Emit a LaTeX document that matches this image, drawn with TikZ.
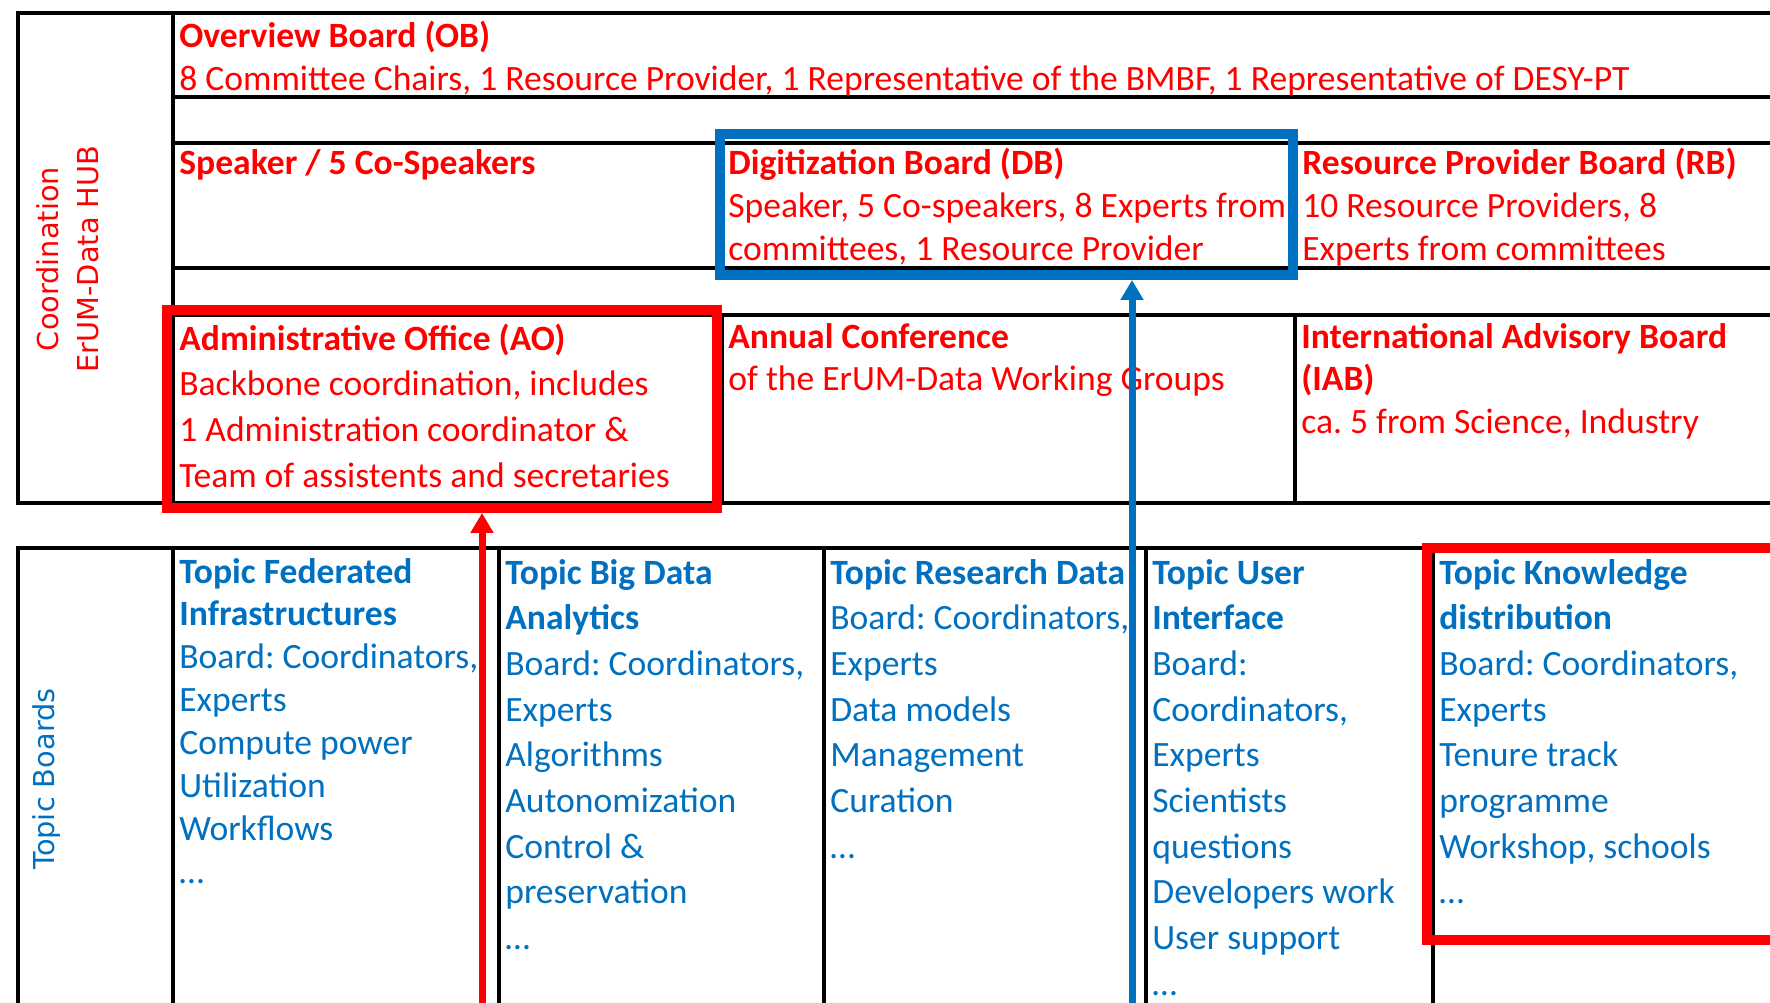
\documentclass[tikz,border=0pt]{standalone}
\usepackage{fontspec}
\setmainfont{Carlito}
\newfontfamily\sidefont{DejaVu Sans}
\usetikzlibrary{arrows.meta,fit}
\definecolor{ored}{RGB}{255,0,0}
\definecolor{oblue}{RGB}{0,112,192}
\frenchspacing

\begin{document}
\begin{tikzpicture}[x=0.02cm, y=-0.02cm,
	grid/.style={line width=0.065cm, black},
	cell/.style={anchor=base west, inner xsep=0.12cm, inner ysep=0pt, text width=31cm, align=flush left, font=\fontsize{20.25}{24.4}\selectfont},
	loose/.style={font=\fontsize{20.25}{26}\selectfont},
	side/.style={rotate=90, align=center, font=\sidefont\fontsize{16.4}{22.5}\selectfont},
	hilite/.style={draw=#1, line width=0.2cm, inner sep=0pt},
	feed/.style={draw=#1, line width=0.14cm, -{Triangle[width=0.44cm,length=0.4cm]}}]
	\useasboundingbox (0,0) rectangle (1770,1003);
	\clip (0,0) rectangle (1770,1003);
	\fill[white] (0,0) rectangle (1770,1003);

	\draw[grid] (1800,13) -- (18,13) -- (18,503) -- (1800,503);
	\draw[grid] (173,13) -- (173,503);
	\draw[grid] (173,97) -- (1800,97);
	\draw[grid] (173,143) -- (1800,143);
	\draw[grid] (173,268) -- (1800,268);
	\draw[grid] (173,315) -- (1800,315);
	\draw[grid] (722,143) -- (722,268);
	\draw[grid] (1296,143) -- (1296,268);
	\draw[grid] (722,315) -- (722,503);
	\draw[grid] (1295,315) -- (1295,503);

	\draw[grid] (1800,548) -- (18,548) -- (18,1010);
	\draw[grid] (173,548) -- (173,1010);
	\draw[grid] (499,548) -- (499,1010);
	\draw[grid] (824,548) -- (824,1010);
	\draw[grid] (1146,548) -- (1146,1010);
	\draw[grid] (1433,548) -- (1433,1010);

	\node[side, text=ored] (13) at (68,259)		{Coordination\\ErUM-Data HUB};
	\node[side, text=oblue] (14) at (47,779)		{Topic Boards};

	\node[cell, text=ored] (1) at (173,47.5)		{\textbf{Overview Board (OB)}\\8 Committee Chairs, 1 Resource Provider, 1 Representative of the BMBF, 1 Representative of DESY-PT};
	\node[cell, text=ored] (2) at (173,175)		{\textbf{Speaker / 5 Co-Speakers}};
	\node[cell, text=ored] (3) at (722,175)		{\textbf{Digitization Board (DB)}\\Speaker, 5 Co-speakers, 8 Experts from\\committees, 1 Resource Provider};
	\node[cell, text=ored] (4) at (1296,175)		{\textbf{Resource Provider Board (RB)}\\10 Resource Providers, 8\\Experts from committees};
	\node[cell, loose, text=ored] (5) at (173,350)	{\textbf{Administrative Office (AO)}\\Backbone coordination, includes\\1 Administration coordinator \&\\Team of assistents and secretaries};
	\node[cell, text=ored] (6) at (722,348)		{\textbf{Annual Conference}\\of the ErUM-Data Working Groups};
	\node[cell, text=ored] (7) at (1295,348)		{\textbf{International Advisory Board}\\\textbf{(IAB)}\\ca. 5 from Science, Industry};

	\node[cell, text=oblue] (8) at (173,583)		{\textbf{Topic Federated}\\\textbf{Infrastructures}\\Board: Coordinators,\\Experts\\Compute power\\Utilization\\Workflows\\…};
	\node[cell, loose, text=oblue] (9) at (499,584)	{\textbf{Topic Big Data}\\\textbf{Analytics}\\Board: Coordinators,\\Experts\\Algorithms\\Autonomization\\Control \&\\preservation\\…};
	\node[cell, loose, text=oblue] (10) at (824,584)	{\textbf{Topic Research Data}\\Board: Coordinators,\\Experts\\Data models\\Management\\Curation\\…};
	\node[cell, loose, text=oblue] (11) at (1146,584)	{\textbf{Topic User}\\\textbf{Interface}\\Board:\\Coordinators,\\Experts\\Scientists\\questions\\Developers work\\User support\\…};
	\node[cell, loose, text=oblue] (12) at (1433,584)	{\textbf{Topic Knowledge}\\\textbf{distribution}\\Board: Coordinators,\\Experts\\Tenure track\\programme\\Workshop, schools\\…};

	\node[hilite=oblue, fit={(719.5,134) (1293,275)}] (16) {};
	\node[hilite=ored, fit={(166.5,310) (717,508)}] (15) {};
	\node[hilite=ored, fit={(1427,547.5) (1850,940)}] (17) {};

	\coordinate (18) at (482,1010);
	\coordinate (19) at (1132,1010);
	\draw[feed=ored] (18) -- (15.south -| 18);
	\draw[feed=oblue] (19) -- (16.south -| 19);
\end{tikzpicture}
\end{document}
